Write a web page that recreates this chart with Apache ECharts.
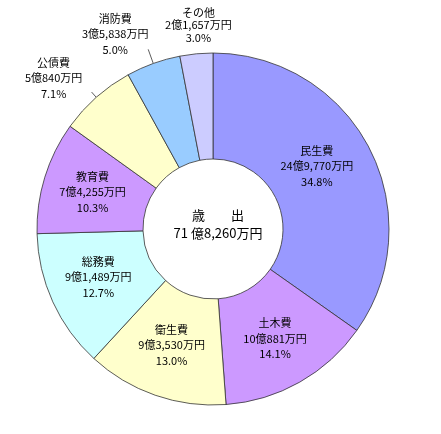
<!DOCTYPE html>
<html>
<head>
<meta charset="utf-8">
<script src="https://cdn.jsdelivr.net/npm/echarts@6/dist/echarts.min.js"></script>
<style>
  html, body { margin: 0; padding: 0; background: #fff; }
  #pie { width: 441px; height: 434px; }
</style>
</head>
<body>
<div id="pie"></div>
<script>
// 費目
const categories = ['民生費', '土木費', '衛生費', '総務費', '教育費', '公債費', '消防費', 'その他']
// 金額（万円）
const amounts = [249770, 100881, 93530, 91489, 74255, 50840, 35838, 21657]
// 構成比（表示値）
const percents = ['34.8%', '14.1%', '13.0%', '12.7%', '10.3%', '7.1%', '5.0%', '3.0%']
const colors = ['#9999FF', '#CC99FF', '#FFFFCC', '#CCFFFF', '#CC99FF', '#FFFFCC', '#99CCFF', '#CCCCFF']
const centerTitle = '歳　　出'
const centerTotal = '71 億8,260万円'

// 外側に出すラベル
const outside = {
  5: { len: 7, line: true, dx: -38, dy: 9, lh: 15.5 },
  6: { len: 15, line: true, dx: -33, dy: 8, lh: 15.5 },
  7: { len: 10, line: false, dx: 3, dy: 0, lh: 12.5 }
}
// 内側ラベルの微調整
const insideShift = {
  0: [-8, -5],
  2: [0, -3],
  3: [0, -4]
}

function fmtYen(v) {
  let oku = Math.floor(v / 10000)
  let man = v % 10000
  return oku + '億' + man.toLocaleString('en-US') + '万円'
}

let myChart = echarts.init(document.getElementById('pie'))

let data = categories.map((name, i) => {
  let item = {
    name: name,
    value: amounts[i],
    itemStyle: { color: colors[i] }
  }
  let o = outside[i]
  if (o) {
    item.label = { position: 'outside', lineHeight: o.lh }
    item.labelLine = { show: o.line, length: o.len, length2: 0 }
  }
  return item
})

let opt = {
  animation: false,
  title: {
    text: centerTitle + '\n' + centerTotal,
    left: 213,
    top: 201,
    textAlign: 'center',
    textStyle: {
      fontFamily: 'Noto Sans CJK JP',
      fontSize: 13,
      fontWeight: 'normal',
      color: '#000',
      lineHeight: 18
    }
  },
  series: [{
    type: 'pie',
    center: [213, 229],
    radius: [70, 176],
    startAngle: 90,
    clockwise: true,
    avoidLabelOverlap: false,
    itemStyle: {
      borderColor: '#333',
      borderWidth: 0.8
    },
    label: {
      position: 'inside',
      fontFamily: 'Noto Sans CJK JP',
      fontSize: 11,
      lineHeight: 15.5,
      color: '#000',
      align: 'center',
      formatter: (p) => p.name + '\n' + fmtYen(p.value) + '\n' + percents[p.dataIndex]
    },
    labelLine: {
      lineStyle: { color: '#333', width: 0.8 }
    },
    labelLayout: (params) => {
      let s = insideShift[params.dataIndex]
      if (s) return { dx: s[0], dy: s[1] }
      let o = outside[params.dataIndex]
      if (!o || !params.labelLinePoints) return {}
      let pts = params.labelLinePoints
      return {
        x: pts[1][0] + o.dx,
        y: pts[1][1] + o.dy,
        align: 'center',
        verticalAlign: 'bottom',
        labelLinePoints: [pts[0], pts[1]]
      }
    },
    data: data
  }]
}

myChart.setOption(opt)
</script>
</body>
</html>
